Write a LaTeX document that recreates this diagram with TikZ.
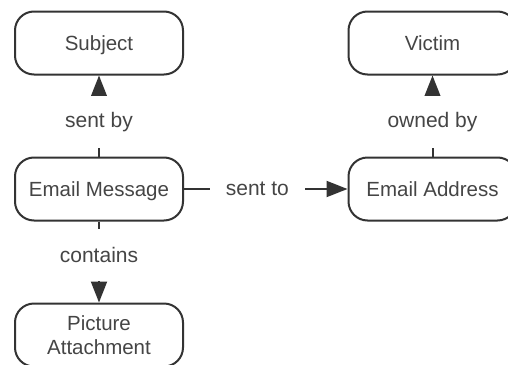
\documentclass[tikz,border=0pt]{standalone}
\usepackage{fontspec}
\setmainfont{Liberation Sans}
\usetikzlibrary{arrows.meta}
\definecolor{linec}{HTML}{333333}
\definecolor{textc}{HTML}{454545}
\tikzset{
  box/.style={draw=linec, line width=2pt, rounded corners=19pt,
    minimum width=168pt, minimum height=63pt, text=textc,
    font=\fontsize{20.5}{23.5}\selectfont, align=center, inner sep=0pt,
    text height=14.7pt, text depth=0pt},
  conn/.style={draw=linec, line width=2pt, -{Triangle[length=21pt,width=16pt]}},
  lbl/.style={fill=white, text=textc, font=\fontsize{21}{24}\selectfont,
    inner xsep=12pt, inner ysep=0pt, minimum height=52pt}
}
\begin{document}
\begin{tikzpicture}[x=1pt,y=-1pt]
\useasboundingbox (0,0) rectangle (508,364);
\clip (0,0) rectangle (508,364);
\node[box] (subj) at (99,43) {Subject};
\node[box] (email) at (99,189) {Email Message};
\node[box, text height=38.2pt] (pic) at (99,335) {Picture\\Attachment};
\node[box] (victim) at (432.5,43) {Victim};
\node[box] (addr) at (432.5,189) {Email Address};
\draw[conn] (email) -- node[lbl, pos=0.42] {sent by} (subj);
\draw[conn] (addr) -- node[lbl, pos=0.42] {owned by} (victim);
\draw[conn] (email) -- node[lbl, pos=0.415] {contains} (pic);
\draw[conn] (email) -- node[lbl, pos=0.449, inner xsep=16pt] {sent to} (addr);
\end{tikzpicture}
\end{document}
